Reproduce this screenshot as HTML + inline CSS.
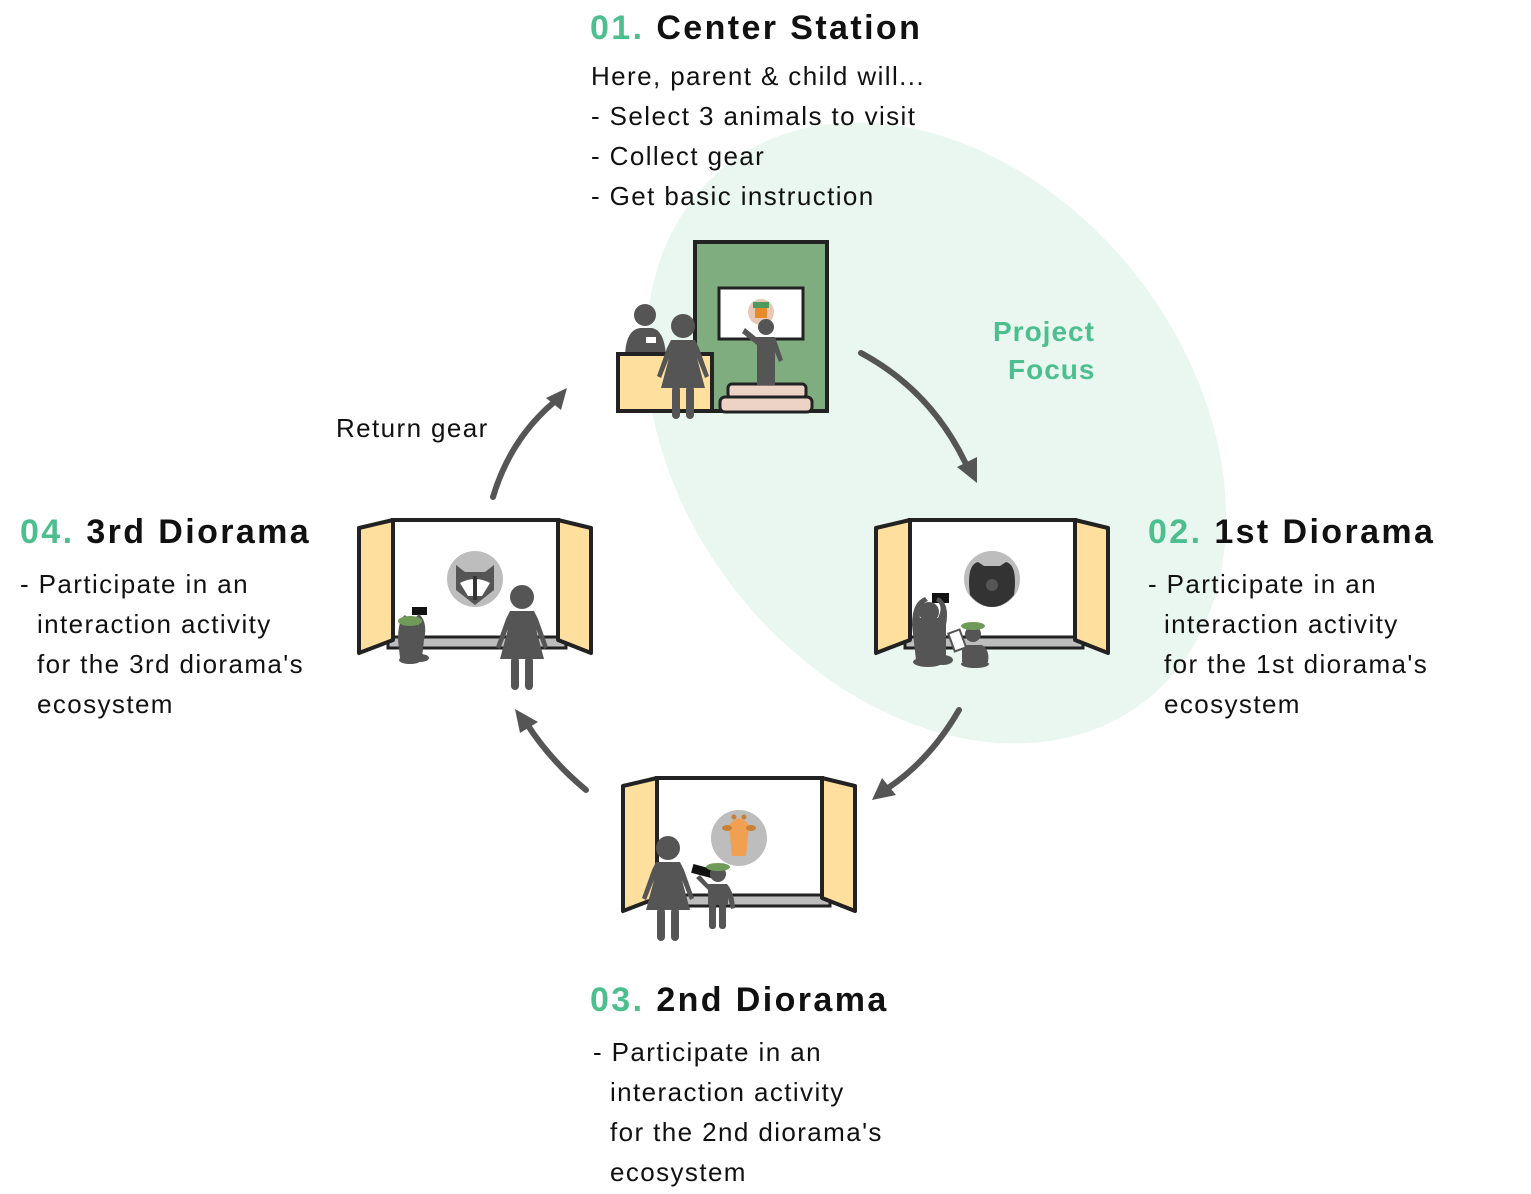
<!DOCTYPE html>
<html><head><meta charset="utf-8"><style>
body{margin:0;background:#fff;}
svg{display:block}
text{font-family:"Liberation Sans","DejaVu Sans",sans-serif;}
.b{font-size:26px;fill:#111;letter-spacing:1.4px}
.h{font-size:34px;font-weight:bold;fill:#111;letter-spacing:2.4px}
.g{fill:#4dbf8e}
</style></head><body>
<svg width="1531" height="1194" viewBox="0 0 1531 1194" xmlns="http://www.w3.org/2000/svg">
<defs>
<g id="dio">
<rect x="34" y="0" width="165" height="120" fill="#fff" stroke="#222" stroke-width="4"/>
<rect x="29" y="117" width="178" height="11" fill="#bdbdbd" stroke="#222" stroke-width="3"/>
<polygon points="0,8 34,0 34,120 0,133" fill="#ffdf9e" stroke="#222" stroke-width="4" stroke-linejoin="round"/>
<polygon points="199,0 232,8 232,133 199,120" fill="#ffdf9e" stroke="#222" stroke-width="4" stroke-linejoin="round"/>
</g>
<g id="woman" fill="#555">
<circle cx="0" cy="0" r="12"/>
<path d="M-12,14 L12,14 L16,22 L26,50 L22,52 L14,32 L22,62 L-22,62 L-14,32 L-22,52 L-26,50 L-16,22 Z"/>
<rect x="-11" y="60" width="8" height="33" rx="4"/>
<rect x="3" y="60" width="8" height="33" rx="4"/>
</g>
</defs>
<ellipse cx="936" cy="433" rx="340" ry="255" transform="rotate(52 936 433)" fill="#eaf7f1"/>

<text x="590" y="39" class="h"><tspan class="g">01.</tspan> Center Station</text>
<text class="b" x="591" y="85">Here, parent &amp; child will...</text>
<text class="b" x="591" y="125">- Select 3 animals to visit</text>
<text class="b" x="591" y="165">- Collect gear</text>
<text class="b" x="591" y="205">- Get basic instruction</text>
<text x="993" y="341" style="font-size:28px;font-weight:bold;letter-spacing:1px" class="g">Project</text>
<text x="1008" y="379" style="font-size:28px;font-weight:bold;letter-spacing:1px" class="g">Focus</text>
<text class="b" x="336" y="437">Return gear</text>

<text x="1148" y="543" class="h"><tspan class="g">02.</tspan> 1st Diorama</text>
<text class="b" x="1148" y="593">- Participate in an</text>
<text class="b" x="1164" y="633">interaction activity</text>
<text class="b" x="1164" y="673">for the 1st diorama's</text>
<text class="b" x="1164" y="713">ecosystem</text>

<text x="20" y="543" class="h"><tspan class="g">04.</tspan> 3rd Diorama</text>
<text class="b" x="20" y="593">- Participate in an</text>
<text class="b" x="37" y="633">interaction activity</text>
<text class="b" x="37" y="673">for the 3rd diorama's</text>
<text class="b" x="37" y="713">ecosystem</text>

<text x="590" y="1011" class="h"><tspan class="g">03.</tspan> 2nd Diorama</text>
<text class="b" x="593" y="1061">- Participate in an</text>
<text class="b" x="610" y="1101">interaction activity</text>
<text class="b" x="610" y="1141">for the 2nd diorama's</text>
<text class="b" x="610" y="1181">ecosystem</text>

<g fill="none" stroke="#555" stroke-width="6" stroke-linecap="round">
<path d="M861,353 Q930,390 965,462"/>
<path d="M959,710 Q930,760 888,788"/>
<path d="M586,790 Q550,760 527,724"/>
<path d="M493,497 Q510,440 553,403"/>
</g>
<g fill="#555">
<polygon points="977,483 957,467 977,457"/>
<polygon points="872,800 882,778 896,795"/>
<polygon points="515,709 538,722 520,733"/>
<polygon points="567,388 561,410 546,398"/>
</g>

<rect x="695" y="242" width="132" height="169" fill="#7fad80" stroke="#222" stroke-width="4"/>
<rect x="719" y="288" width="84" height="51" fill="#fff" stroke="#222" stroke-width="3"/>
<circle cx="761" cy="312" r="13" fill="#e6c8b4"/>
<rect x="753" y="302" width="16" height="6" fill="#4d9b5c"/>
<rect x="755" y="308" width="12" height="10" fill="#e88a2a"/>
<rect x="728" y="384" width="78" height="14" rx="4" fill="#edd3c5" stroke="#222" stroke-width="3"/>
<rect x="720" y="397" width="92" height="15" rx="5" fill="#edd3c5" stroke="#222" stroke-width="3"/>
<g fill="#555">
<circle cx="766" cy="327" r="8"/>
<path d="M756,337 L775,337 L783,360 L779,362 L775,352 L775,385 L757,385 L757,345 L742,333 L745,328 Z"/>
</g>
<g fill="#555">
<circle cx="645" cy="315" r="11"/>
<path d="M625,355 Q626,330 640,328 L652,328 Q664,330 666,355 Z"/>
</g>
<rect x="646" y="337" width="10" height="6" fill="#fff"/>
<rect x="618" y="354" width="94" height="57" fill="#ffdf9e" stroke="#222" stroke-width="4"/>
<use href="#woman" x="683" y="326"/>

<use href="#dio" x="876" y="520"/>
<use href="#dio" x="359" y="520"/>
<use href="#dio" x="623" y="778"/>

<circle cx="992" cy="579" r="28" fill="#bdbdbd"/>
<path d="M970,595 Q966,565 978,562 L984,566 L1000,566 L1006,562 Q1018,565 1014,595 Q1004,607 992,607 Q980,607 970,595 Z" fill="#333"/>
<circle cx="992" cy="585" r="6" fill="#555"/>
<g fill="#555">
<rect x="932" y="593" width="17" height="10" fill="#111"/>
<circle cx="929" cy="612" r="10"/>
<path d="M912,625 Q912,602 925,597 L928,601 Q918,605 920,618 L938,618 Q944,605 936,601 L938,597 Q950,603 946,625 L946,660 L916,660 Z"/>
<ellipse cx="928" cy="662" rx="15" ry="5"/>
<ellipse cx="943" cy="660" rx="10" ry="5"/>
<circle cx="973" cy="634" r="8"/>
<path d="M962,645 L982,645 Q990,650 988,662 L962,662 Z"/>
<ellipse cx="975" cy="664" rx="14" ry="4"/>
</g>
<ellipse cx="973" cy="626" rx="12" ry="4" fill="#6f9a57"/>
<rect x="951" y="631" width="12" height="19" fill="#fff" stroke="#555" stroke-width="2" transform="rotate(-20 957 640)"/>

<circle cx="475" cy="579" r="28" fill="#bdbdbd"/>
<path d="M456,565 L465,572 L485,572 L494,565 L494,590 L475,605 L456,590 Z" fill="#555"/>
<path d="M460,583 Q475,575 490,583 L482,596 L468,596 Z" fill="#fff"/>
<path d="M473,576 L477,576 L477,600 L473,600 Z" fill="#333"/>
<g fill="#555">
<rect x="412" y="607" width="15" height="8" fill="#111"/>
<circle cx="411" cy="628" r="8"/>
<path d="M398,640 Q398,620 405,615 L408,618 Q403,625 405,632 L418,632 Q420,622 416,617 L419,614 Q428,622 424,640 L422,658 L400,658 Z"/>
<ellipse cx="410" cy="660" rx="11" ry="4"/>
<ellipse cx="420" cy="658" rx="9" ry="4"/>
</g>
<ellipse cx="410" cy="621" rx="12" ry="5" fill="#6f9a57"/>
<use href="#woman" x="522" y="597"/>

<circle cx="739" cy="838" r="28" fill="#bdbdbd"/>
<path d="M729,825 Q739,812 749,825 L746,856 L732,856 Z" fill="#f0a050"/>
<ellipse cx="727" cy="828" rx="5" ry="3" fill="#c78035"/>
<ellipse cx="751" cy="828" rx="5" ry="3" fill="#c78035"/>
<circle cx="734" cy="817" r="2.5" fill="#c78035"/>
<circle cx="744" cy="817" r="2.5" fill="#c78035"/>
<use href="#woman" x="668" y="848"/>
<g fill="#555">
<rect x="692" y="867" width="24" height="9" fill="#111" transform="rotate(15 704 871)"/>
<circle cx="718" cy="874" r="8"/>
<path d="M708,884 L727,884 Q734,892 735,908 L731,909 L728,898 L728,905 L708,905 L708,890 L696,878 L700,875 Z"/>
<rect x="709" y="903" width="7" height="26" rx="3"/>
<rect x="719" y="903" width="7" height="26" rx="3"/>
</g>
<ellipse cx="718" cy="867" rx="12" ry="4" fill="#6f9a57"/>
</svg>
</body></html>
